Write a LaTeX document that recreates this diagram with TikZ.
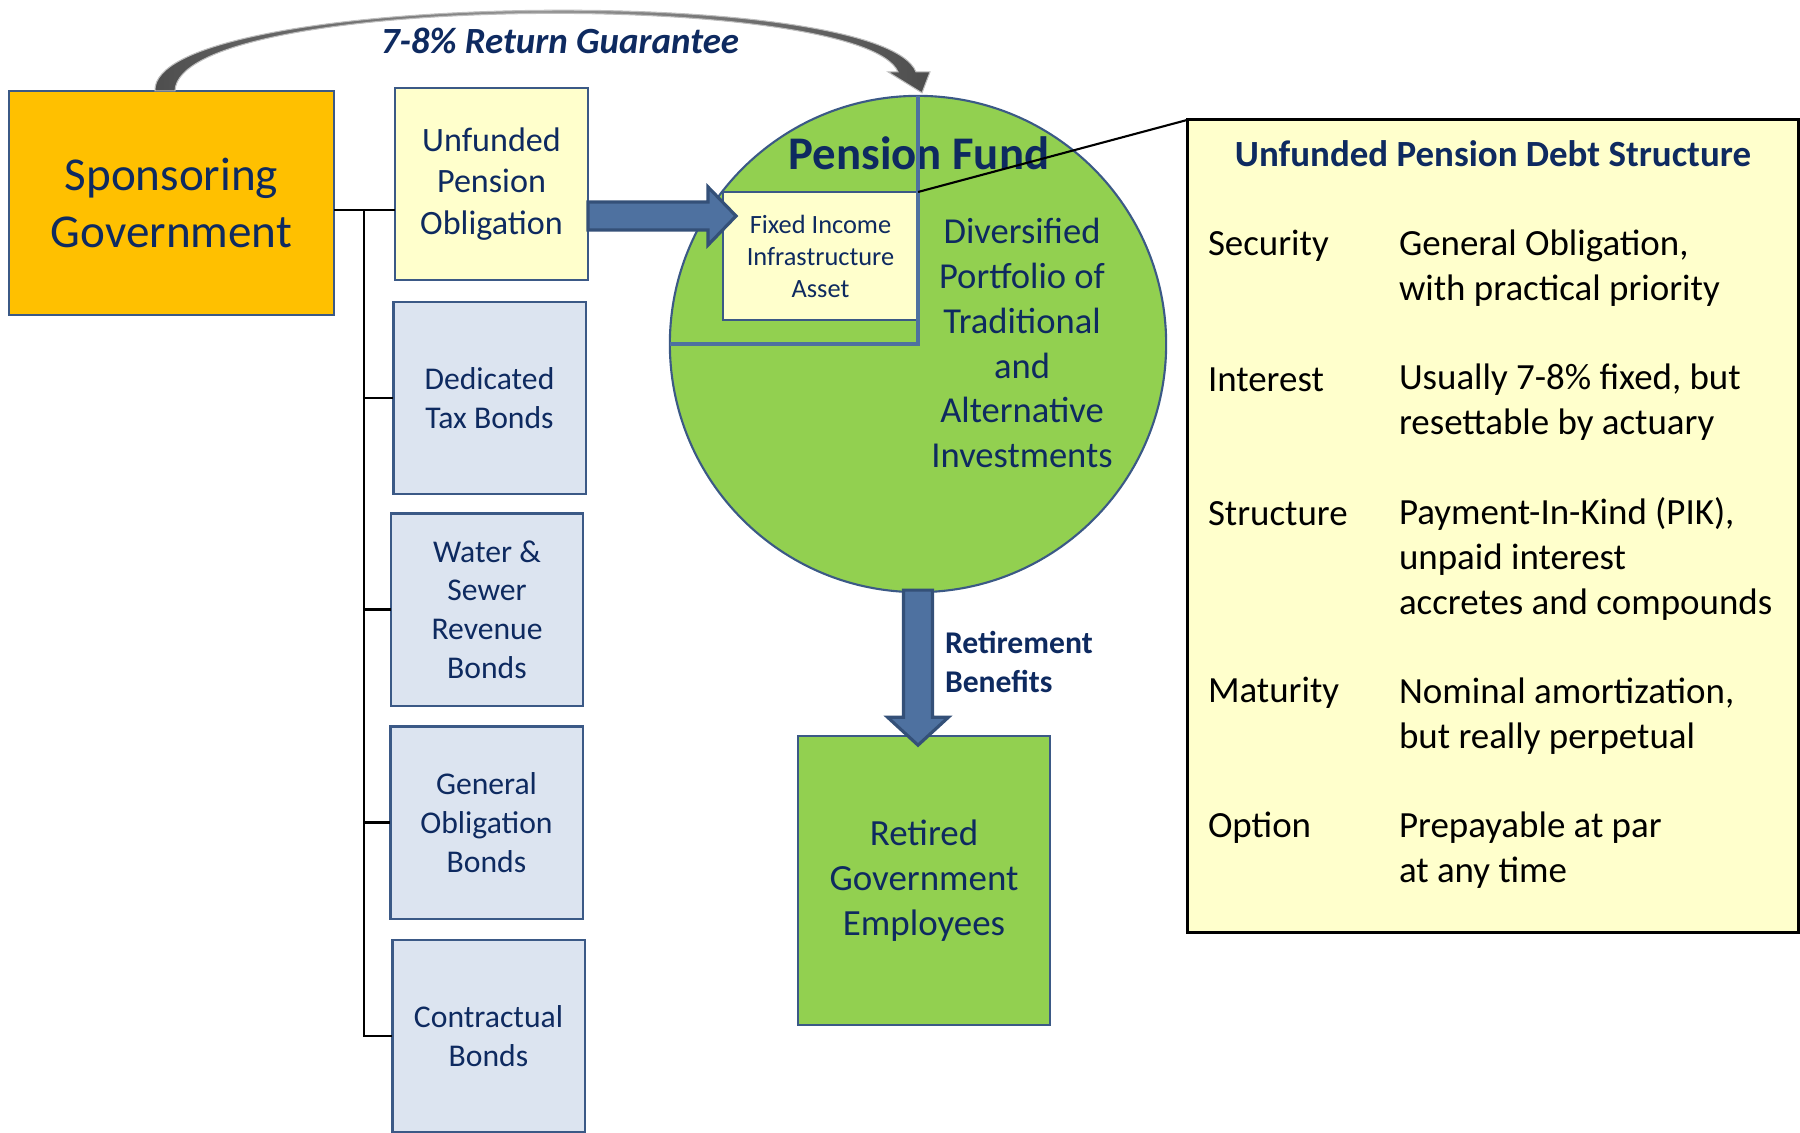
\documentclass[tikz,border=0pt]{standalone}
\usepackage{fontspec}
\setmainfont{Carlito}
\usetikzlibrary{calc}
\definecolor{navytext}{RGB}{14,42,96}
\definecolor{govgold}{RGB}{255,192,0}
\definecolor{paleyellow}{RGB}{255,255,204}
\definecolor{bondblue}{RGB}{220,228,240}
\definecolor{edgeblue}{RGB}{59,89,134}
\definecolor{fundgreen}{RGB}{146,208,80}
\definecolor{arrowblue}{RGB}{78,113,160}
\definecolor{arrowedge}{RGB}{52,80,120}
\definecolor{arcgray}{RGB}{77,77,77}
\definecolor{arclight}{RGB}{150,150,150}
\definecolor{arcedge}{RGB}{190,190,190}
\begin{document}
\begin{tikzpicture}[x=0.01cm, y=-0.01cm,
        every node/.style={inner sep=0pt, outer sep=0pt, text=navytext},
        box/.style={rectangle, draw=edgeblue, line width=0.6pt, align=center},
        bondbox/.style={box, fill=bondblue, minimum width=1.92cm, minimum height=1.92cm, font=\fontsize{9}{11}\selectfont},
        blockarrow/.style={fill=arrowblue, draw=arrowedge, line width=0.9pt, line join=miter},
        bus/.style={draw=black, line width=0.7pt},
        quarter/.style={draw=arrowblue, line width=1.3pt},
        rowlabel/.style={anchor=west, text=black, font=\fontsize{10.5}{12.7}\selectfont},
        rowvalue/.style={anchor=west, align=left, text=black, font=\fontsize{10.5}{12.7}\selectfont}]

        \useasboundingbox (0,0) rectangle (1800,1132);

        % left column
        \node[box, fill=govgold, minimum width=3.25cm, minimum height=2.24cm, font=\fontsize{13.4}{16.3}\selectfont] (gov) at (171.5,203) {Sponsoring\\Government};
        \node[box, fill=paleyellow, minimum width=1.93cm, minimum height=1.92cm, font=\fontsize{9.7}{11.7}\selectfont] (upo) at (491.5,184) {Unfunded\\Pension\\Obligation};
        \node[bondbox] (dtb) at (489.5,398) {Dedicated\\Tax Bonds};
        \node[bondbox] (wsr) at (487,609.5) {Water \&\\Sewer\\Revenue\\Bonds};
        \node[bondbox] (gob) at (486.5,822.5) {General\\Obligation\\Bonds};
        \node[bondbox] (cb) at (488.5,1036) {Contractual\\Bonds};

        \coordinate (busTop) at (364,210);
        \draw[bus] (gov.east |- busTop) -- (upo.west |- busTop);
        \draw[bus] (busTop) |- (cb.west);
        \foreach \b in {dtb,wsr,gob}
            \draw[bus] (busTop |- \b.west) -- (\b.west);

        % pension fund
        \node[circle, draw=edgeblue, line width=0.6pt, fill=fundgreen, minimum size=4.96cm] (fund) at (918,344) {};
        \node[font=\bfseries\fontsize{13.3}{16}\selectfont] (fundtitle) at (919,153) {Pension Fund};
        \node[box, fill=paleyellow, line width=0.4pt, minimum width=1.95cm, minimum height=1.28cm, font=\fontsize{7.5}{9.1}\selectfont] (fixed) at (820.5,256) {Fixed Income\\Infrastructure\\Asset};
        \draw[quarter] (fund.north) -- (fund.center) -- (fund.west);
        \node[align=center, font=\fontsize{10.4}{12.75}\selectfont] (divers) at (1022,343) {Diversified\\Portfolio of\\Traditional\\and\\Alternative\\Investments};

        \draw[blockarrow] ($(upo.east)+(0,18)$) -- ++(120,0) -- ++(0,-15) -- ++(28,29) -- ++(-28,29) -- ++(0,-15) -- ++(-120,0) -- cycle;

        % guarantee arc
        \draw[left color=arcgray, right color=arcgray, middle color=arclight, draw=arcedge, line width=0.3pt] ($(gov.north)+(-16.5,0)$) .. controls (150,-8) and (880,-18) .. ($(fund.north)+(-2,-24)$) -- ++(14,0) -- ($(fund.north)+(4,-3)$) -- ($(fund.north)+(-30,-24)$) -- ++(10,0) .. controls (862,-10) and (178,-8) .. ($(gov.north)+(3.5,0)$) -- cycle;
        \node[font=\bfseries\itshape\fontsize{10.5}{12.7}\selectfont] (guarantee) at (560,41) {7-8\% Return Guarantee};

        % retirees
        \node[box, fill=fundgreen, minimum width=2.52cm, minimum height=2.88cm, font=\fontsize{10.5}{12.8}\selectfont] (retired) at (924,880.5) {Retired\\Government\\Employees};
        \draw[blockarrow] ($(fund.south)+(-14.5,-2)$) -- ++(0,127) -- ++(-16,0) -- ++(30.5,28) -- ++(30.5,-28) -- ++(-16,0) -- ++(0,-127) -- cycle;
        \node[anchor=west, align=left, font=\bfseries\fontsize{9}{11.1}\selectfont] (benefits) at (945,662) {Retirement\\Benefits};

        % debt structure
        \node[rectangle, draw=black, line width=0.8pt, fill=paleyellow, minimum width=6.1cm, minimum height=8.12cm] (debt) at (1493,526) {};
        \draw[line width=0.6pt] (fixed.north east) -- (debt.north west);
        \node[font=\bfseries\fontsize{10.5}{12.7}\selectfont] (debttitle) at (1493,154) {Unfunded Pension Debt Structure};
        \node[rowlabel] (lsec) at (1208,246) {Security};
        \node[rowvalue] (vsec) at (1399,268) {General Obligation,\\with practical priority};
        \node[rowlabel] (lint) at (1208,380) {Interest};
        \node[rowvalue] (vint) at (1399,402) {Usually 7-8\% fixed, but\\resettable by actuary};
        \node[rowlabel] (lstr) at (1208,514) {Structure};
        \node[rowvalue] (vstr) at (1399,559) {Payment-In-Kind (PIK),\\unpaid interest\\accretes and compounds};
        \node[rowlabel] (lmat) at (1208,693) {Maturity};
        \node[rowvalue] (vmat) at (1399,716) {Nominal amortization,\\but really perpetual};
        \node[rowlabel] (lopt) at (1208,828) {Option};
        \node[rowvalue] (vopt) at (1399,850) {Prepayable at par\\at any time};
    \end{tikzpicture}
\end{document}
